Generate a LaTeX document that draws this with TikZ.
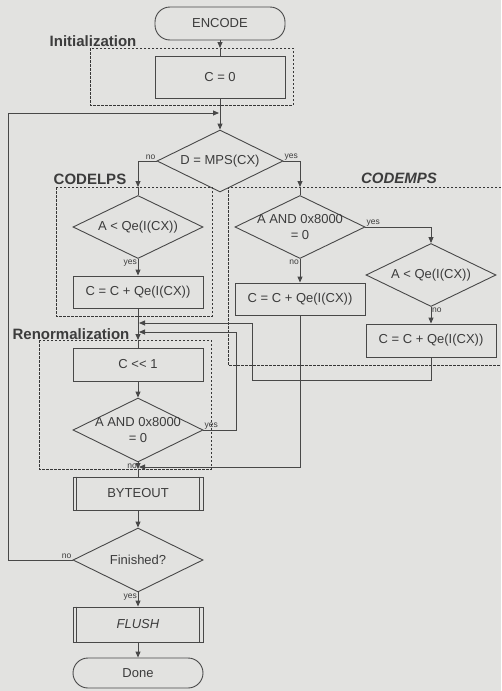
\documentclass[tikz,border=0pt]{standalone}
\usepackage{fontspec}
\setmainfont{Liberation Sans}
\usetikzlibrary{shapes.geometric,arrows.meta,calc}
\definecolor{bg}{RGB}{226,226,224}
\definecolor{ln}{RGB}{72,72,72}
\definecolor{dk}{RGB}{55,55,55}
\definecolor{tx}{RGB}{60,60,60}
\begin{document}
\begin{tikzpicture}[x=1pt,y=-1pt,
  lnst/.style={draw=ln, line width=0.9pt},
  arr/.style={lnst, -{Triangle[length=6pt,width=5pt]}},
  box/.style={lnst, rectangle, minimum width=130pt, minimum height=33pt, inner sep=0pt, text=tx, font=\fontsize{13}{15}\selectfont},
  term/.style={box, rounded corners=15pt},
  dia/.style={lnst, diamond, minimum width=130pt, minimum height=63pt, inner sep=0pt},
  dtxt/.style={text=tx, font=\fontsize{13}{15.5}\selectfont, align=center, inner sep=0pt},
  yn/.style={text=tx, font=\fontsize{8.5}{9}\selectfont, inner sep=1pt},
  sec/.style={text=tx, font=\bfseries\fontsize{15}{17}\selectfont, inner sep=0pt},
  dbox/.style={draw=dk, line width=1pt, dash pattern=on 2.5pt off 1.5pt}
]
\useasboundingbox[fill=bg] (0,0) rectangle (501,691);

% dashed groups
\draw[dbox] (90,48) rectangle (293,105);
\draw[dbox] (56,187) rectangle (212,316);
\draw[dbox] (501,187) -- (228,187) -- (228,365) -- (501,365);
\draw[dbox] (39,340) rectangle (211,469);

% section labels
\node[sec] (sInit) at (93,41) {Initialization};
\node[sec] (sLps) at (90,179) {CODELPS};
\node[sec, font=\bfseries\itshape\fontsize{15}{17}\selectfont] (sMps) at (399,178.5) {CODEMPS};
\node[sec] (sRen) at (71,334) {Renormalization};

% nodes
\node[term] (enc) at (220,23.5) {ENCODE};
\node[box, minimum height=42pt] (c0) at (220,77) {C = 0};
\node[dia, minimum width=126pt, minimum height=62pt] (d1) at (220,161) {};
\node[dtxt] (d1t) at (d1) {D = MPS(CX)};

\node[dia] (dl) at (138,227) {};
\node[dtxt] (dlt) at (dl) {A < Qe(I(CX))};
\node[box, minimum height=32pt] (cl) at (138,292) {C = C + Qe(I(CX))};

\node[dia] (dm1) at (300,227) {};
\node[dtxt] (dm1t) at (dm1) {A AND 0x8000\\= 0};
\node[box, minimum height=32pt] (cm1) at (300,299) {C = C + Qe(I(CX))};
\node[dia] (dm2) at (431,275) {};
\node[dtxt] (dm2t) at (dm2) {A < Qe(I(CX))};
\node[box] (cm2) at (431,340.5) {C = C + Qe(I(CX))};

\node[box] (cs) at (138,364.5) {C <\kern0pt< 1};
\node[dia, minimum height=64pt] (rd) at (138,430) {};
\node[dtxt] (rdt) at (rd) {A AND 0x8000\\= 0};

\node[box] (by) at (138,493.5) {BYTEOUT};
\draw[lnst] ([xshift=4pt]by.north west) -- ([xshift=4pt]by.south west);
\draw[lnst] ([xshift=-4pt]by.north east) -- ([xshift=-4pt]by.south east);
\node[dia, minimum height=64pt] (fin) at (138,560) {};
\node[dtxt] (fint) at (fin) {Finished?};
\node[box, minimum height=35pt] (fl) at (138,624.5) {\itshape FLUSH};
\draw[lnst] ([xshift=4pt]fl.north west) -- ([xshift=4pt]fl.south west);
\draw[lnst] ([xshift=-4pt]fl.north east) -- ([xshift=-4pt]fl.south east);
\node[term, minimum height=30pt] (done) at (138,673) {Done};

% coordinates
\coordinate (iin) at (220,48);
\coordinate (loopin) at (219,113);
\coordinate (lcorner) at (8,113);
\coordinate (lpsin) at (138,187);
\coordinate (mpsin) at (300,187);
\coordinate (rnin) at (138,340);
\coordinate (rnout) at (138,469);
\coordinate (j1) at (252,380);
\coordinate (j1e) at (139,323);
\coordinate (j2) at (236,332);
\coordinate (j2e) at (139,332);
\coordinate (j3e) at (139,467);

% connectors
\draw[arr] (enc.south) -- (iin);
\draw[lnst] (iin) -- (c0.north);
\draw[arr] (c0.south) -- (d1.north);
\draw[arr] (fin.west) -| (lcorner) -- (loopin);
\draw[arr] (d1.west) -| (lpsin);
\draw[lnst] (lpsin) -- (dl.north);
\draw[arr] (d1.east) -| (mpsin);
\draw[lnst] (mpsin) -- (dm1.north);
\draw[arr] (dl.south) -- (cl.north);
\draw[arr] (dm1.east) -| (dm2.north);
\draw[arr] (dm1.south) -- (cm1.north);
\draw[arr] (dm2.south) -- (cm2.north);
\draw[arr] (cl.south) -- (rnin);
\draw[lnst] (rnin) -- (cs.north);
\draw[arr] (cs.south) -- (rd.north);
\draw[arr] (rd.south) -- (rnout);
\draw[lnst] (rnout) -- (by.north);
\draw[arr] (by.south) -- (fin.north);
\draw[arr] (fin.south) -- (fl.north);
\draw[arr] (fl.south) -- (done.north);
\draw[arr] (cm2.south) |- (j1) |- (j1e);
\draw[arr] (rd.east) -| (j2) -- (j2e);
\draw[arr] (cm1.south) |- (j3e);

% branch labels
\node[yn, anchor=south east] (l1) at (d1.west) {no};
\node[yn, anchor=south west] (l2) at (d1.east) {yes};
\node[yn, anchor=north east] (l3) at (dl.south) {yes};
\node[yn, anchor=south west] (l4) at (dm1.east) {yes};
\node[yn, anchor=north east] (l5) at (dm1.south) {no};
\node[yn, anchor=north west] (l6) at (dm2.south) {no};
\node[yn, anchor=south west] (l7) at (rd.east) {yes};
\node[yn, anchor=north east] (l8) at (rd.south) {no};
\node[yn, anchor=south east] (l9) at (fin.west) {no};
\node[yn, anchor=north east] (l10) at (fin.south) {yes};
\end{tikzpicture}
\end{document}
